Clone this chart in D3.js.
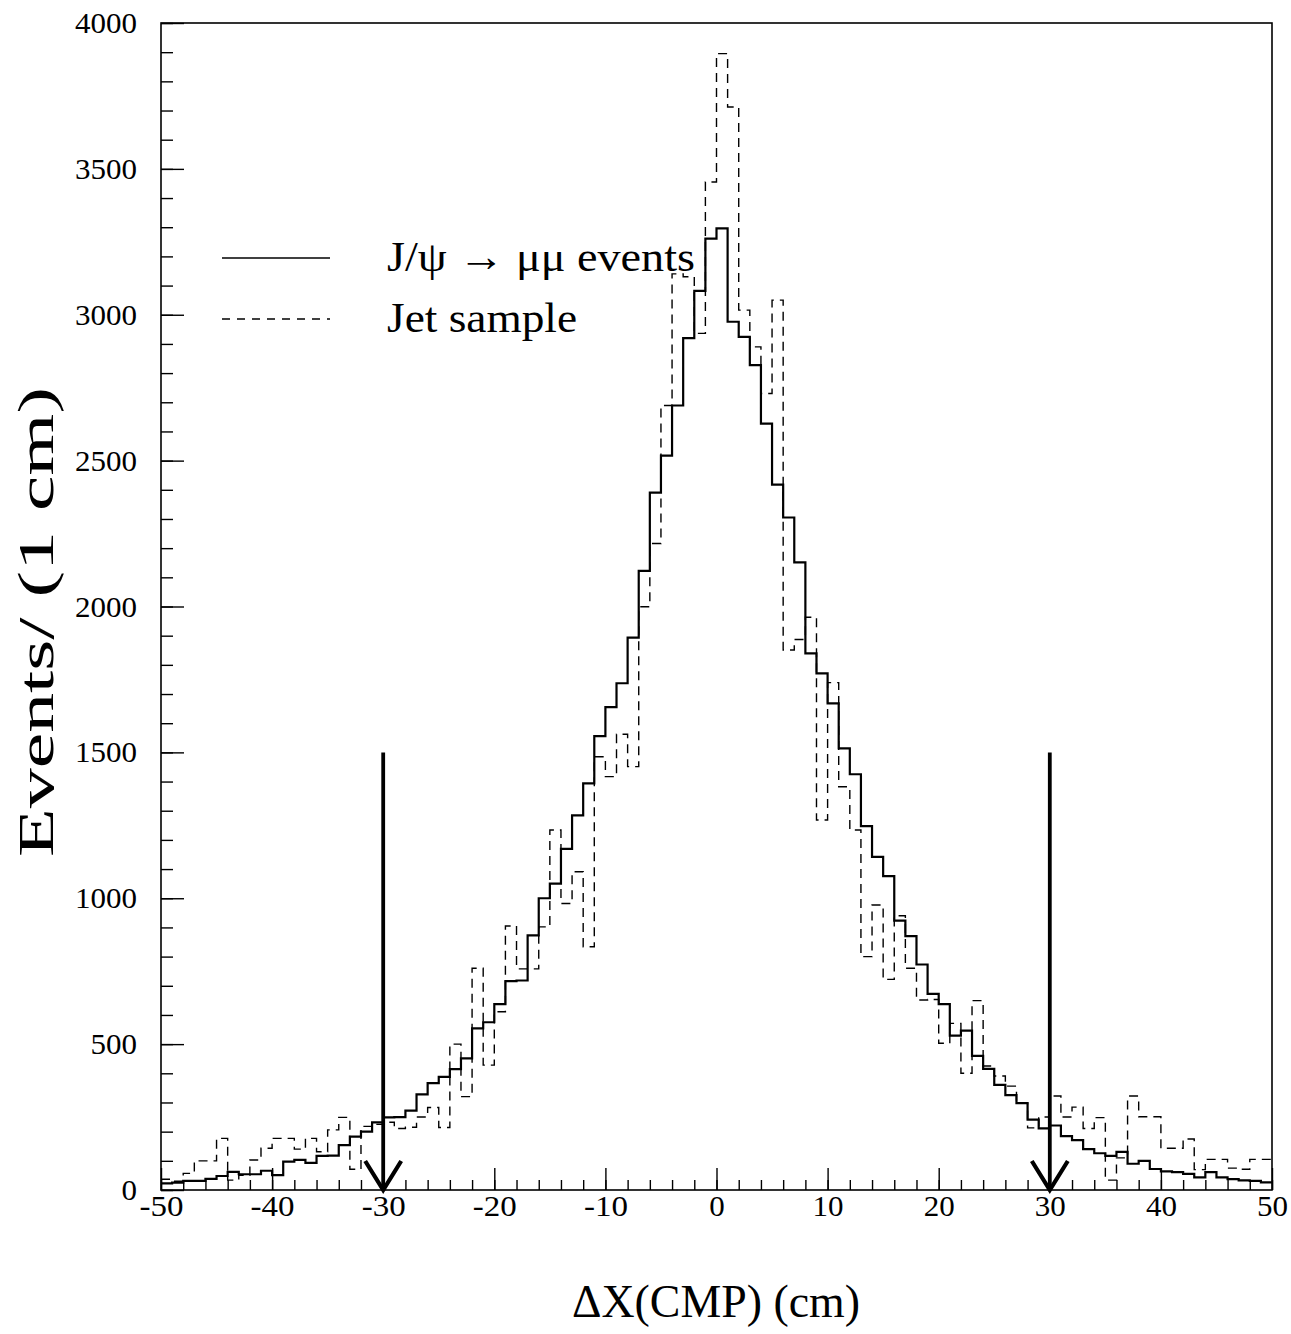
<!DOCTYPE html>
<html>
<head>
<meta charset="utf-8">
<script src="https://cdn.jsdelivr.net/npm/d3@7"></script>
<style>
  html, body { margin: 0; padding: 0; background: #fff; }
  svg { display: block; }
  text { font-family: "Liberation Serif", "DejaVu Serif", serif; fill: #000; }
</style>
</head>
<body>
<svg id="chart" width="1291" height="1334"></svg>
<script>
// ---- data ----
// bin left edges (1 cm bins from -50 to 49)
const binEdges = d3.range(-50, 50);
// J/psi -> mu mu events (solid)
const jpsiCounts = [
  23, 25, 31, 31, 38, 48, 62, 54, 54, 66,
  51, 97, 103, 93, 117, 118, 154, 183, 200, 232,
  249, 250, 272, 328, 366, 388, 414, 451, 554, 575,
  637, 716, 718, 873, 1000, 1050, 1169, 1284, 1394, 1556,
  1655, 1737, 1893, 2122, 2390, 2517, 2689, 2920, 3082, 3261,
  3296, 2976, 2924, 2827, 2627, 2418, 2305, 2151, 1839, 1771,
  1668, 1514, 1425, 1247, 1142, 1076, 923, 870, 773, 672,
  637, 529, 546, 460, 415, 360, 325, 298, 241, 211,
  221, 185, 171, 140, 126, 117, 131, 90, 100, 72,
  64, 61, 55, 43, 61, 43, 37, 33, 31, 26
];
// Jet sample (dashed)
const jetCounts = [
  37, 30, 57, 100, 100, 177, 34, 50, 103, 143,
  177, 177, 140, 177, 131, 206, 249, 71, 218, 225,
  232, 211, 215, 250, 283, 214, 500, 320, 760, 428,
  611, 905, 758, 758, 902, 1234, 982, 1091, 834, 1485,
  1417, 1562, 1451, 1999, 2216, 2689, 3140, 3130, 2936, 3455,
  3895, 3712, 3016, 2890, 2730, 3050, 1851, 1887, 1963, 1268,
  1739, 1382, 1234, 800, 977, 722, 940, 760, 651, 653,
  503, 571, 400, 649, 425, 391, 356, 297, 213, 250,
  322, 250, 284, 211, 248, 34, 110, 322, 251, 251,
  143, 143, 175, 70, 105, 105, 75, 71, 105, 105
];
const xTickLabels = [-50, -40, -30, -20, -10, 0, 10, 20, 30, 40, 50];
const yTickLabels = [0, 500, 1000, 1500, 2000, 2500, 3000, 3500, 4000];
const cutValues = [-30, 30];
const cutTop = 1500;
const legendLabels = ["J/\u03C8 \u2192 \u03BC\u03BC events", "Jet sample"];
const xTitle = "\u0394X(CMP) (cm)";
const yTitle = "Events/ (1 cm)";

// ---- layout ----
const svg = d3.select("#chart");
const x = d3.scaleLinear().domain([-50, 50]).range([161, 1272]);
const y = d3.scaleLinear().domain([0, 4000]).range([1190, 23]);

// frame
svg.append("rect")
  .attr("x", x(-50)).attr("y", y(4000))
  .attr("width", x(50) - x(-50)).attr("height", y(0) - y(4000))
  .attr("fill", "none").attr("stroke", "#000").attr("stroke-width", 1.6);

// y axis minor ticks
svg.append("g").attr("transform", `translate(${x(-50)},0)`)
  .call(d3.axisLeft(y).tickValues(d3.range(0, 4001, 100)).tickSizeInner(-12).tickSizeOuter(0).tickFormat(""))
  .call(g => g.select(".domain").remove())
  .call(g => g.selectAll("line").attr("stroke-width", 1.4));
// y axis major ticks + labels
svg.append("g").attr("transform", `translate(${x(-50)},0)`)
  .call(d3.axisLeft(y).tickValues(yTickLabels).tickSizeInner(-23).tickSizeOuter(0).tickPadding(24).tickFormat(d3.format("d")))
  .call(g => g.select(".domain").remove())
  .call(g => g.selectAll("line").attr("stroke-width", 1.4))
  .call(g => g.selectAll("text").style("font-size", "30px").attr("font-family", null)
    .attr("textLength", d => String(d).length * 15.5).attr("lengthAdjust", "spacingAndGlyphs"));

// x axis minor ticks
svg.append("g").attr("transform", `translate(0,${y(0)})`)
  .call(d3.axisBottom(x).tickValues(d3.range(-50, 51, 2)).tickSizeInner(-10).tickSizeOuter(0).tickFormat(""))
  .call(g => g.select(".domain").remove())
  .call(g => g.selectAll("line").attr("stroke-width", 1.4));
// x axis major ticks + labels
svg.append("g").attr("transform", `translate(0,${y(0)})`)
  .call(d3.axisBottom(x).tickValues(xTickLabels).tickSizeInner(-22).tickSizeOuter(0).tickPadding(5).tickFormat(d3.format("d")))
  .call(g => g.select(".domain").remove())
  .call(g => g.selectAll("line").attr("stroke-width", 1.4))
  .call(g => g.selectAll("text").style("font-size", "30px").attr("font-family", null)
    .text(d => String(d))
    .attr("textLength", d => String(d).replace("-", "").length * 15.5 + (d < 0 ? 13 : 0))
    .attr("lengthAdjust", "spacingAndGlyphs"));

// histograms as step lines
function stepData(counts) {
  const pts = binEdges.map((e, i) => [e, counts[i]]);
  pts.push([50, counts[counts.length - 1]]);
  return pts;
}
const line = d3.line().x(d => x(d[0])).y(d => y(d[1])).curve(d3.curveStepAfter);

svg.append("path").datum(stepData(jetCounts))
  .attr("d", line).attr("fill", "none").attr("stroke", "#000")
  .attr("stroke-width", 1.4).attr("stroke-dasharray", "9,6");
svg.append("path").datum(stepData(jpsiCounts))
  .attr("d", line).attr("fill", "none").attr("stroke", "#000")
  .attr("stroke-width", 2.2);

// cut arrows
cutValues.forEach(c => {
  const g = svg.append("g").attr("stroke", "#000").attr("fill", "none");
  g.append("line").attr("x1", x(c)).attr("x2", x(c)).attr("y1", y(cutTop)).attr("y2", y(0) - 2)
    .attr("stroke-width", 3.8);
  g.append("path")
    .attr("d", `M${x(c) - 18},${y(0) - 29} L${x(c)},${y(0)} L${x(c) + 18},${y(0) - 29}`)
    .attr("stroke-width", 4.2).attr("stroke-linejoin", "miter");
});

// legend
const legY = [258, 319];
const legTextLen = [308, 190];
svg.append("line").attr("x1", 222).attr("x2", 330).attr("y1", legY[0]).attr("y2", legY[0])
  .attr("stroke", "#000").attr("stroke-width", 1.6);
svg.append("line").attr("x1", 222).attr("x2", 330).attr("y1", legY[1]).attr("y2", legY[1])
  .attr("stroke", "#000").attr("stroke-width", 1.4).attr("stroke-dasharray", "8,7");
legendLabels.forEach((t, i) => {
  svg.append("text").attr("x", 387).attr("y", legY[i] + 13)
    .style("font-size", "43px")
    .attr("textLength", legTextLen[i]).attr("lengthAdjust", "spacingAndGlyphs")
    .text(t);
});

// axis titles
svg.append("text").attr("x", 716).attr("y", 1317).attr("text-anchor", "middle")
  .style("font-size", "46px")
  .attr("textLength", 288).attr("lengthAdjust", "spacingAndGlyphs")
  .text(xTitle);
svg.append("text").attr("transform", "translate(53,622) rotate(-90)").attr("text-anchor", "middle")
  .style("font-size", "50px")
  .attr("textLength", 470).attr("lengthAdjust", "spacingAndGlyphs")
  .text(yTitle);
</script>
</body>
</html>
